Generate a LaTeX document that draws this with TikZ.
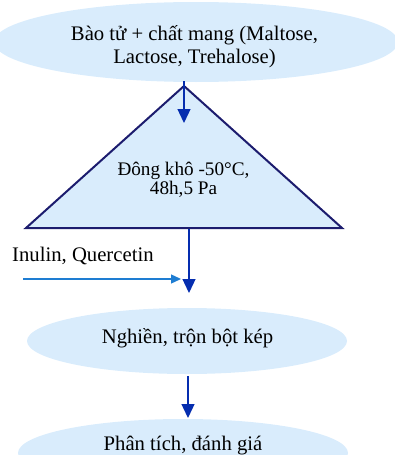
\documentclass[tikz,border=0pt]{standalone}
\usepackage{fontspec}
\setmainfont{Liberation Serif}
\usetikzlibrary{shapes.geometric,arrows.meta}
\definecolor{fillblue}{RGB}{217,236,252}
\definecolor{navy}{RGB}{28,28,110}
\definecolor{arrblue}{RGB}{5,45,175}
\definecolor{lightarr}{RGB}{30,125,210}
\tikzset{
  oval/.style={ellipse, fill=fillblue, draw=none, inner sep=0pt},
  lbl/.style={font=\fontsize{20.7}{23}\selectfont, align=center, inner sep=0pt},
  trilbl/.style={font=\fontsize{19.2}{19}\selectfont, align=center, inner sep=0pt},
  tri/.style={draw=navy, fill=fillblue, line width=2pt, line join=miter},
  arr/.style={draw=arrblue, line width=1.3pt, -{Triangle[length=14pt,width=13pt]}},
  arrlight/.style={draw=lightarr, line width=1.3pt, -{Triangle[length=10pt,width=9pt]}}
}
\begin{document}
\begin{tikzpicture}[x=1pt,y=-1pt]
\useasboundingbox (0,0) rectangle (395,455);
% top ellipse
\node[oval, minimum width=404pt, minimum height=80pt] (top) at (196,42) {};
\node[lbl, anchor=base] (t1) at (194.5,40) {Bào tử + chất mang (Maltose,};
\node[lbl, anchor=base] (t2) at (194.5,63.3) {Lactose, Trehalose)};
% triangle
\coordinate (apex) at (184,86);
\coordinate (bl) at (26,228);
\coordinate (br) at (342,228);
\draw[tri] (apex) -- (br) -- (bl) -- cycle;
\node[trilbl, anchor=base] (d1) at (183.5,175) {Đông khô -50°C,};
\node[trilbl, anchor=base] (d2) at (183.5,194) {48h,5 Pa};
% middle ellipse
\node[oval, minimum width=320pt, minimum height=66pt] (mid) at (187,341) {};
\node[lbl, anchor=base] (m1) at (187.5,343) {Nghiền, trộn bột kép};
% bottom ellipse
\node[oval, minimum width=330pt, minimum height=68pt] (bot) at (183,453) {};
\node[lbl, anchor=base] (b1) at (183,450) {Phân tích, đánh giá};
% inulin label
\node[lbl, anchor=base west] (inu) at (12,261.5) {Inulin, Quercetin};
% arrows
\coordinate (a1s) at (184,81);
\coordinate (a1e) at (184,123);
\draw[arr] (a1s) -- (a1e);
\coordinate (a2s) at (189,229);
\coordinate (a2e) at (189,293);
\draw[arr] (a2s) -- (a2e);
\coordinate (a3s) at (188,376);
\coordinate (a3e) at (188,418);
\draw[arr] (a3s) -- (a3e);
\coordinate (a4s) at (23,279);
\coordinate (a4e) at (181,279);
\draw[arrlight] (a4s) -- (a4e);
\end{tikzpicture}
\end{document}
